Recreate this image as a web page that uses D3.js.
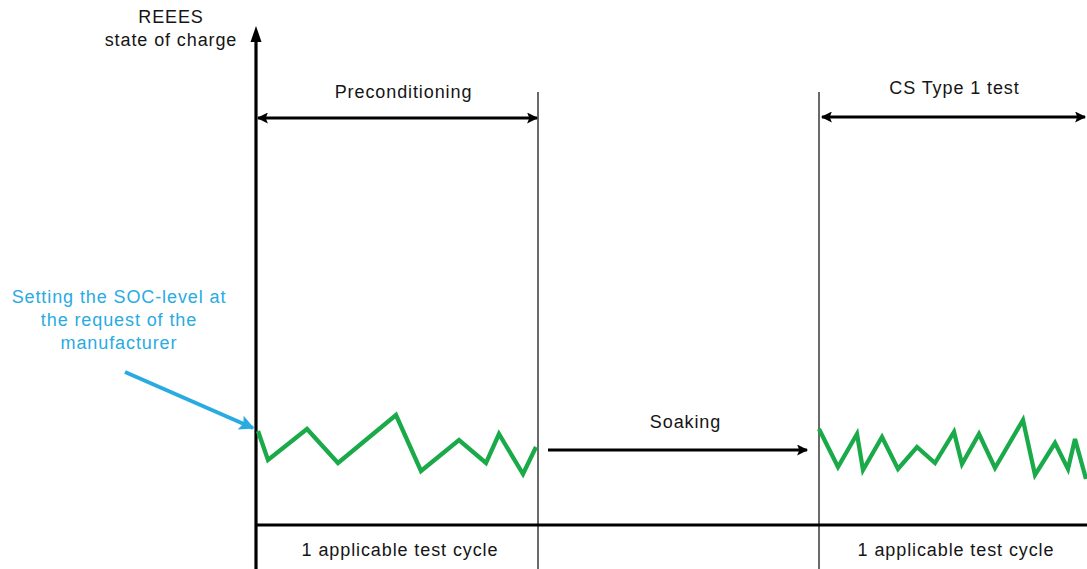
<!DOCTYPE html>
<html><head><meta charset="utf-8">
<script src="https://cdn.jsdelivr.net/npm/d3@7"></script>
<style>body{margin:0;background:#fff}svg{display:block}text{font-family:"Liberation Sans",Arial,sans-serif}</style>
</head><body>
<svg id="c" width="1087" height="569"></svg>
<script>
// time units (arbitrary), SOC units (arbitrary)
const phaseBounds = [0, 282, 563, 831];
const phaseLabels = ["Preconditioning", "Soaking", "CS Type 1 test"];
const cycleLabel = "1 applicable test cycle";
const axisTitle = ["REEES", "state of charge"];
const noteLines = ["Setting the SOC-level at", "the request of the", "manufacturer"];
const precondT = [2, 12, 51, 82, 140, 165, 203, 230, 243, 267, 280];
const precondSOC = [18.8, 13, 19.2, 12.4, 22, 10.8, 17, 12.4, 18.2, 10.2, 15.6];
const csT = [563, 582, 601, 607, 626, 642, 661, 679, 698, 706, 723, 739, 767, 779, 799, 812, 819, 830];
const csSOC = [19.2, 11.6, 18.2, 11, 17.6, 11.2, 15.6, 12.4, 18.6, 12.2, 18.2, 11.4, 21, 10, 16.4, 11.2, 17.2, 9.2];

const svg = d3.select("#c");
const x = d3.scaleLinear().domain([0, 831]).range([256, 1087]);
const y = d3.scaleLinear().domain([0, 100]).range([525, 25]);
const FS = 18, LS = 0.9;

const defs = svg.append("defs");
function marker(id, color, w, h) {
  defs.append("marker").attr("id", id).attr("viewBox", "0 0 10 10").attr("refX", 9).attr("refY", 5)
    .attr("markerWidth", w).attr("markerHeight", h).attr("markerUnits", "userSpaceOnUse").attr("orient", "auto-start-reverse")
    .append("path").attr("d", "M0,0 L10,5 L0,10 L2,5 Z").attr("fill", color);
}
marker("ab", "#000", 14, 11);
marker("abl", "#29abe2", 17, 15);

function txt(xx, yy, s, color) {
  return svg.append("text").attr("x", xx).attr("y", yy).attr("text-anchor", "middle")
    .attr("font-size", FS).attr("letter-spacing", LS).attr("fill", color || "#151515").text(s);
}

// phase separators
[phaseBounds[1], phaseBounds[2]].forEach(t => {
  svg.append("line").attr("x1", x(t)).attr("x2", x(t)).attr("y1", 92).attr("y2", 569)
    .attr("stroke", "#444").attr("stroke-width", 1.6);
});

// x baseline
svg.append("line").attr("x1", x(0)).attr("x2", 1087).attr("y1", y(0)).attr("y2", y(0))
  .attr("stroke", "#000").attr("stroke-width", 3);

// y axis with arrow
svg.append("line").attr("x1", x(0)).attr("x2", x(0)).attr("y1", 569).attr("y2", 40)
  .attr("stroke", "#000").attr("stroke-width", 3.2);
svg.append("path").attr("d", `M${x(0)},26 L${x(0)-5.5},42 L${x(0)+5.5},42 Z`).attr("fill", "#000");

txt(171, 23, axisTitle[0]);
txt(171, 46, axisTitle[1]);

// double arrows
function dbl(t0, t1, yy, label, ly, dx) {
  svg.append("line").attr("x1", x(t0)).attr("x2", x(t1)).attr("y1", yy).attr("y2", yy)
    .attr("stroke", "#000").attr("stroke-width", 3).attr("marker-start", "url(#ab)").attr("marker-end", "url(#ab)");
  txt((x(t0) + x(t1)) / 2 + dx, ly, label);
}
dbl(phaseBounds[0] + 2, phaseBounds[1] - 1, 118, phaseLabels[0], 98, 6);
dbl(phaseBounds[2] + 3, phaseBounds[3] - 2, 117, phaseLabels[2], 94, 1);

// soaking arrow
svg.append("line").attr("x1", x(phaseBounds[1]) + 10).attr("x2", x(phaseBounds[2]) - 12).attr("y1", 450).attr("y2", 450)
  .attr("stroke", "#000").attr("stroke-width", 3).attr("marker-end", "url(#ab)");
txt((x(phaseBounds[1]) + x(phaseBounds[2])) / 2 + 7, 428, phaseLabels[1]);

// cycle labels
[[phaseBounds[0], phaseBounds[1]], [phaseBounds[2], phaseBounds[3]]].forEach(([a, b]) => {
  txt((x(a) + x(b)) / 2 + 3, 556, cycleLabel);
});

// SOC lines
const line = d3.line().x(d => x(d[0])).y(d => y(d[1]));
[[precondT, precondSOC], [csT, csSOC]].forEach(([ts, vs]) => {
  svg.append("path").datum(ts.map((t, i) => [t, vs[i]])).attr("d", line)
    .attr("fill", "none").attr("stroke", "#1aaa4a").attr("stroke-width", 4.3).attr("stroke-linejoin", "miter");
});

// note
noteLines.forEach((l, i) => {
  txt(119, 303 + i * 23, l, "#29abe2");
});
svg.append("line").attr("x1", 125).attr("y1", 372).attr("x2", 253).attr("y2", 428)
  .attr("stroke", "#29abe2").attr("stroke-width", 4).attr("marker-end", "url(#abl)");
</script>
</body></html>
